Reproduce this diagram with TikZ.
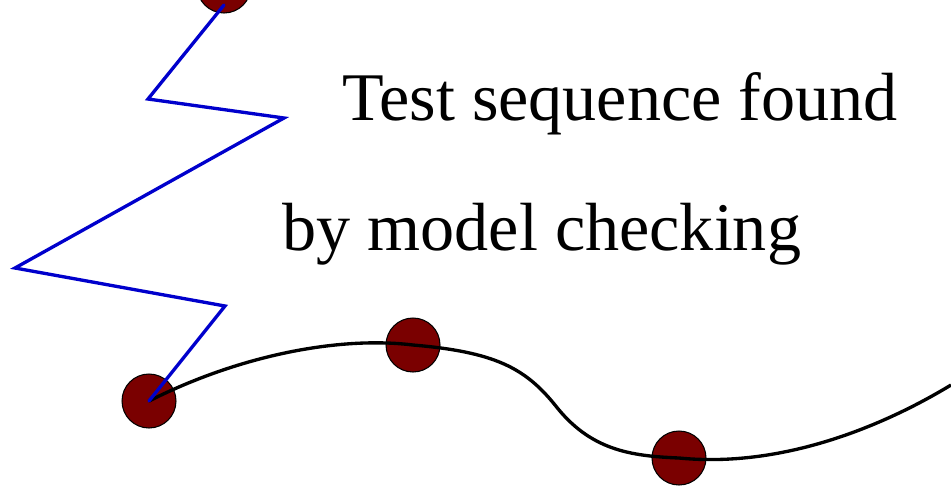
\documentclass[tikz,border=0pt]{standalone}
\usepackage{fontspec}
\setmainfont{Liberation Serif}
\usetikzlibrary{positioning}
\definecolor{stateRed}{HTML}{7A0000}
\definecolor{traceBlue}{HTML}{0000CC}

\begin{document}
\begin{tikzpicture}[
    x=0.02cm, y=-0.02cm,
    state/.style={draw=black, line width=0.6pt, circle, minimum size=1.08cm, inner sep=0pt, fill=stateRed},
    run/.style={draw=black, line width=1.9pt},
    trace/.style={draw=traceBlue, line width=1.9pt, line join=miter, line cap=round},
    caption/.style={font=\fontsize{38.8}{46}\selectfont, inner sep=0pt, anchor=base west},
]
\useasboundingbox (0,0) rectangle (951,485);
\node[state] (init)  at (149, 401) {};
\node[state] (s1)    at (413, 345) {};
\node[state] (s2)    at (679, 458) {};
\node[state] (goal)  at (224, -14) {};
\coordinate (tip)  at (224, 5);
\coordinate (zA)   at (148, 99);
\coordinate (zB)   at (284, 118);
\coordinate (zC)   at (15, 268);
\coordinate (zD)   at (225, 306);
\coordinate (exit) at (951, 385);
\draw[run] (init.center) .. controls (240, 355) and (340, 336) .. (s1.center)
    .. controls (495, 352) and (525, 368) .. (555, 405)
    .. controls (590, 450) and (630, 456) .. (s2.center)
    .. controls (780, 468) and (880, 428) .. (exit);
\draw[trace] (tip) -- (zA) -- (zB) -- (zC) -- (zD) -- (init.center);
\node[caption] (line1) at (342, 120) {Test sequence found};
\node[caption] (line2) at (282, 250) {by model checking};
\end{tikzpicture}
\end{document}
